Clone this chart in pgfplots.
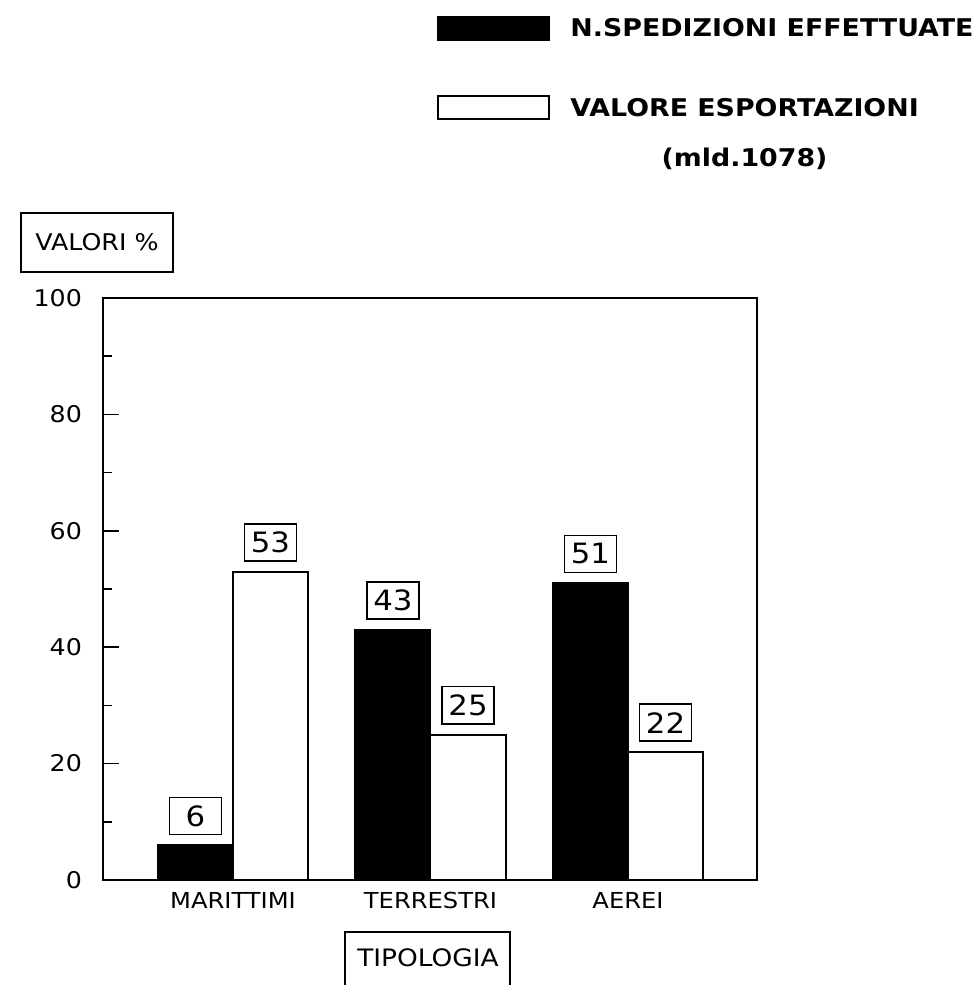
\documentclass[border=0pt]{standalone}
\usepackage{fontspec}
\setmainfont{DejaVu Sans}[FakeStretch=1.1]
\usepackage{pgfplots}
\pgfplotsset{compat=1.18}

\begin{document}
\begin{tikzpicture}
% page = 978 x 985 px at 0.5pt per px; origin = lower left corner of the axis box
\path[use as bounding box] (-51.5pt,-52.5pt) rectangle (437.5pt,440pt);

\begin{axis}[
    at={(0,0)}, anchor=south west,
    width=327pt, height=291pt, scale only axis,
    clip=false,
    xmin=-0.658, xmax=2.653,
    ymin=0, ymax=100,
    ybar=0pt, bar width=0.38,
    axis line style={line width=1pt},
    xtick={0,1,2},
    xticklabels={MARITTIMI,TERRESTRI,AEREI},
    x tick style={draw=none},
    xticklabel style={font=\fontsize{11}{12}\selectfont, yshift=-2.5pt},
    ytick={0,20,...,100},
    minor y tick num=1,
    ytick pos=left,
    tick align=inside,
    major tick length=8pt,
    minor tick length=4.5pt,
    y tick style={line width=0.8pt, black},
    yticklabel style={font=\fontsize{11.5}{12}\selectfont, xshift=-7pt},
    /pgf/number format/assume math mode=true,
    xlabel={TIPOLOGIA},
    xlabel style={at={(axis description cs:0.497,-0.134)}, anchor=center,
        font=\fontsize{12}{14}\selectfont},
    ylabel={VALORI \%},
    ylabel style={rotate=-90, at={(axis description cs:-0.0092,1.0954)}, anchor=center,
        draw=black, line width=0.8pt, minimum width=76pt, minimum height=29.5pt,
        inner sep=0pt, font=\fontsize{11.5}{13}\selectfont},
    nodes near coords,
    every node near coord/.append style={draw=black, line width=0.75pt, fill=white,
        text=black, font=\fontsize{14}{14}\selectfont,
        minimum width=26pt, minimum height=18.5pt, inner sep=0pt,
        anchor=south, yshift=5pt},
    legend style={at={(rel axis cs:0.5107,1.4845)}, anchor=north west,
        draw=none, fill=none, inner sep=0pt,
        font=\bfseries\fontsize{12.2}{14}\selectfont,
        column sep=10pt, row sep=27pt,
        nodes={inner sep=0pt}},
    legend cell align=left,
    swatch/.style={legend image code/.code={
        \draw[##1, line width=1pt] (0pt,-5.75pt) rectangle (55.5pt,5.75pt);}},
]
\addplot[fill=black, draw=black, line width=1pt, swatch]
    coordinates {(0,6) (1,43) (2,51)};
\addplot[fill=white, draw=black, line width=1pt, swatch]
    coordinates {(0,53) (1,25) (2,22)};
\legend{N.SPEDIZIONI EFFETTUATE,
    {\begin{tabular}[t]{@{}c@{}}VALORE ESPORTAZIONI\\[11pt](mld.1078)\end{tabular}}}
\end{axis}

% open box round the x label
\begin{scope}[x=0.5pt, y=-0.5pt, shift={(-51.5pt,440pt)}]
  \draw[line width=0.8pt] (345,990) -- (345,932) -- (510,932) -- (510,990);
\end{scope}
\end{tikzpicture}
\end{document}
